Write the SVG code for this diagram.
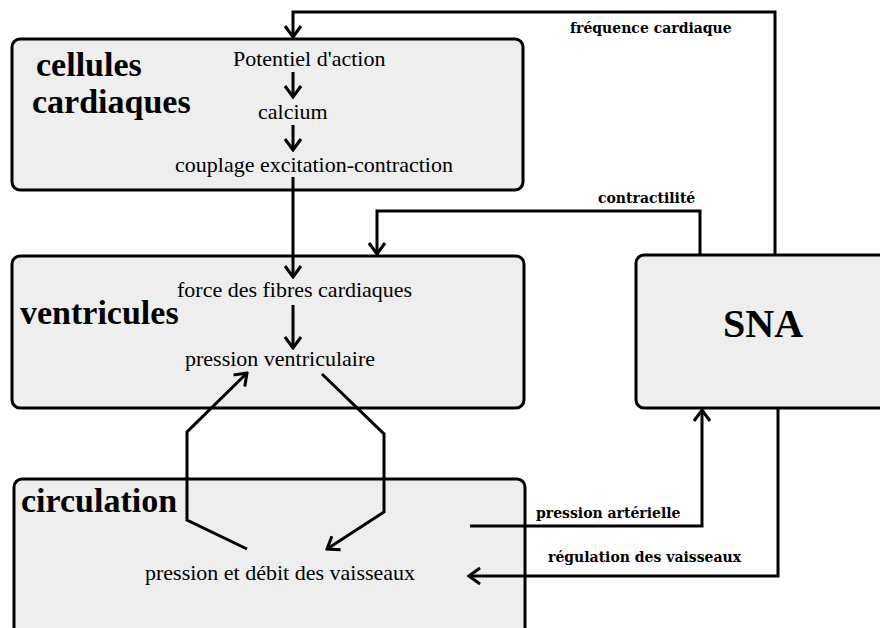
<svg xmlns="http://www.w3.org/2000/svg" width="880" height="628" viewBox="0 0 880 628">
<style>
.box{fill:#eeeeee;stroke:#000;stroke-width:3}
.head{font-family:"Liberation Serif","Times New Roman",serif;font-weight:bold;font-size:34px;fill:#000}
.txt{font-family:"Liberation Serif","Times New Roman",serif;font-size:22px;fill:#000}
.lbl{font-family:"DejaVu Serif",serif;font-weight:bold;font-size:14px;fill:#000}
.con{fill:none;stroke:#000;stroke-width:3}
</style>
<defs>
<marker id="ah" markerUnits="userSpaceOnUse" viewBox="-14 -10 16 20" refX="0" refY="0" markerWidth="16" markerHeight="20" orient="auto">
<path d="M-11,-8 L0,0 L-11,8" fill="none" stroke="#000" stroke-width="3"/>
</marker>
</defs>
<rect width="880" height="628" fill="#fff"/>
<g id="cellules">
<rect class="box" x="12" y="39" width="511" height="151" rx="8"/>
<text class="head" x="36" y="76">cellules</text>
<text class="head" x="32" y="113">cardiaques</text>
<text class="txt" x="233" y="66">Potentiel d'action</text>
<text class="txt" x="258" y="119">calcium</text>
<text class="txt" x="175" y="172">couplage excitation-contraction</text>
</g>
<g id="ventricules">
<rect class="box" x="12" y="256" width="512" height="152" rx="8"/>
<text class="head" x="20" y="324">ventricules</text>
<text class="txt" x="177" y="297">force des fibres cardiaques</text>
<text class="txt" x="185" y="366">pression ventriculaire</text>
</g>
<g id="circulation">
<rect class="box" x="14" y="479" width="511" height="170" rx="8"/>
<text class="head" x="21" y="512">circulation</text>
<text class="txt" x="145" y="580">pression et débit des vaisseaux</text>
</g>
<g id="sna">
<rect class="box" x="636" y="255" width="260" height="153" rx="8"/>
<text class="head" x="723" y="337" style="font-size:40px">SNA</text>
</g>
<g id="connectors">
<path class="con" d="M293,72 V97" marker-end="url(#ah)"/>
<path class="con" d="M293,125 V150" marker-end="url(#ah)"/>
<path class="con" d="M293,177 V277" marker-end="url(#ah)"/>
<path class="con" d="M293,305 V348" marker-end="url(#ah)"/>
<path class="con" d="M775,255 V12 H293 V37" marker-end="url(#ah)"/>
<path class="con" d="M700,255 V211 H377 V254" marker-end="url(#ah)"/>
<path class="con" d="M247,549 L187,520 V432 L247,373" marker-end="url(#ah)"/>
<path class="con" d="M322,374 L384,434 V512 L327,549" marker-end="url(#ah)"/>
<path class="con" d="M470,526 H702 V410" marker-end="url(#ah)"/>
<path class="con" d="M778,408 V576 H469" marker-end="url(#ah)"/>
</g>
<g id="labels">
<text class="lbl" x="570" y="33">fréquence cardiaque</text>
<text class="lbl" x="598" y="203">contractilité</text>
<text class="lbl" x="536" y="518">pression artérielle</text>
<text class="lbl" x="548" y="562">régulation des vaisseaux</text>
</g>
</svg>
